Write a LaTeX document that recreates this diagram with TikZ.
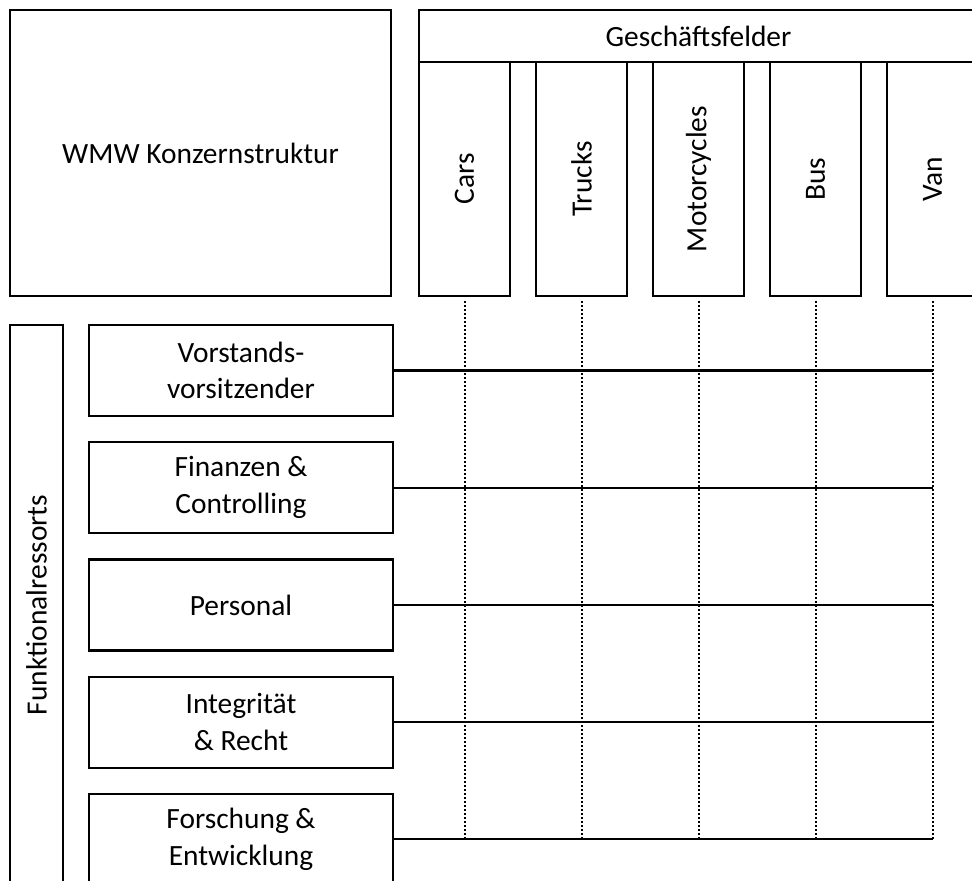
\documentclass[tikz,border=0pt]{standalone}
\usepackage{fontspec}
\setmainfont{Carlito}
\usepackage{tikz}
\usetikzlibrary{positioning}

\begin{document}
\begin{tikzpicture}[
    x=0.5pt, y=-0.5pt,
    schrift/.style={font=\fontsize{14.7}{18.3}\selectfont},
    box/.style={rectangle, draw=black, line width=1.1pt, inner sep=0pt, outer sep=0pt,
                align=center, schrift},
    kopf/.style={box, minimum width=190.5pt, minimum height=143pt},
    feldkopf/.style={box, minimum width=279.5pt, minimum height=26pt},
    feld/.style={box, minimum width=45.5pt, minimum height=117pt},
    ressortkopf/.style={box, minimum width=26.5pt, minimum height=280pt},
    ressort/.style={box, minimum width=152pt, minimum height=45.5pt},
    hochkant/.style={rotate=90, schrift},
    linie/.style={line width=1.1pt},
    raster/.style={line width=1pt, dash pattern=on 1pt off 1pt, shorten <=2.5pt}
]

\clip (0,0) rectangle (972,881);

% Kopf
\node[kopf, anchor=north west] (konzern) at (10,10) {WMW Konzernstruktur};
\node[feldkopf, anchor=north west] (gf) at (419,10) {Geschäftsfelder};

% Geschaeftsfelder
\node[feld, anchor=north west] (cars) at (gf.south west) {};
\node[hochkant] at (cars) {Cars};
\node[feld, right=13pt of cars] (trucks) {};
\node[hochkant] at (trucks) {Trucks};
\node[feld, right=13pt of trucks] (moto) {};
\node[hochkant] at (moto) {Motorcycles};
\node[feld, right=13pt of moto] (bus) {};
\node[hochkant] at (bus) {Bus};
\node[feld, right=13pt of bus] (van) {};
\node[hochkant] at (van) {Van};

% Funktionalressorts
\node[ressortkopf, below=14.5pt of konzern.south west, anchor=north west] (fr) {};
\node[hochkant] at (fr) {Funktionalressorts};
\node[ressort, right=13pt of fr.north east, anchor=north west] (vorsitz) {Vorstands-\\vorsitzender};
\node[ressort, below=13.1pt of vorsitz] (finanzen) {Finanzen \&\\Controlling};
\node[ressort, below=13.1pt of finanzen] (personal) {Personal};
\node[ressort, below=13.1pt of personal] (recht) {Integrität\\\& Recht};
\node[ressort, below=13.1pt of recht] (fue) {Forschung \&\\Entwicklung};

% Linien
\draw[linie] (vorsitz.east) -- (vorsitz.east -| van.south);
\draw[linie] (finanzen.east) -- (finanzen.east -| van.south);
\draw[linie] (personal.east) -- (personal.east -| van.south);
\draw[linie] (recht.east) -- (recht.east -| van.south);
\draw[linie] (fue.east) -- (fue.east -| van.south);

% Raster
\draw[raster] (cars.south) -- (cars.south |- fue.east);
\draw[raster] (trucks.south) -- (trucks.south |- fue.east);
\draw[raster] (moto.south) -- (moto.south |- fue.east);
\draw[raster] (bus.south) -- (bus.south |- fue.east);
\draw[raster] (van.south) -- (van.south |- fue.east);

\end{tikzpicture}
\end{document}
